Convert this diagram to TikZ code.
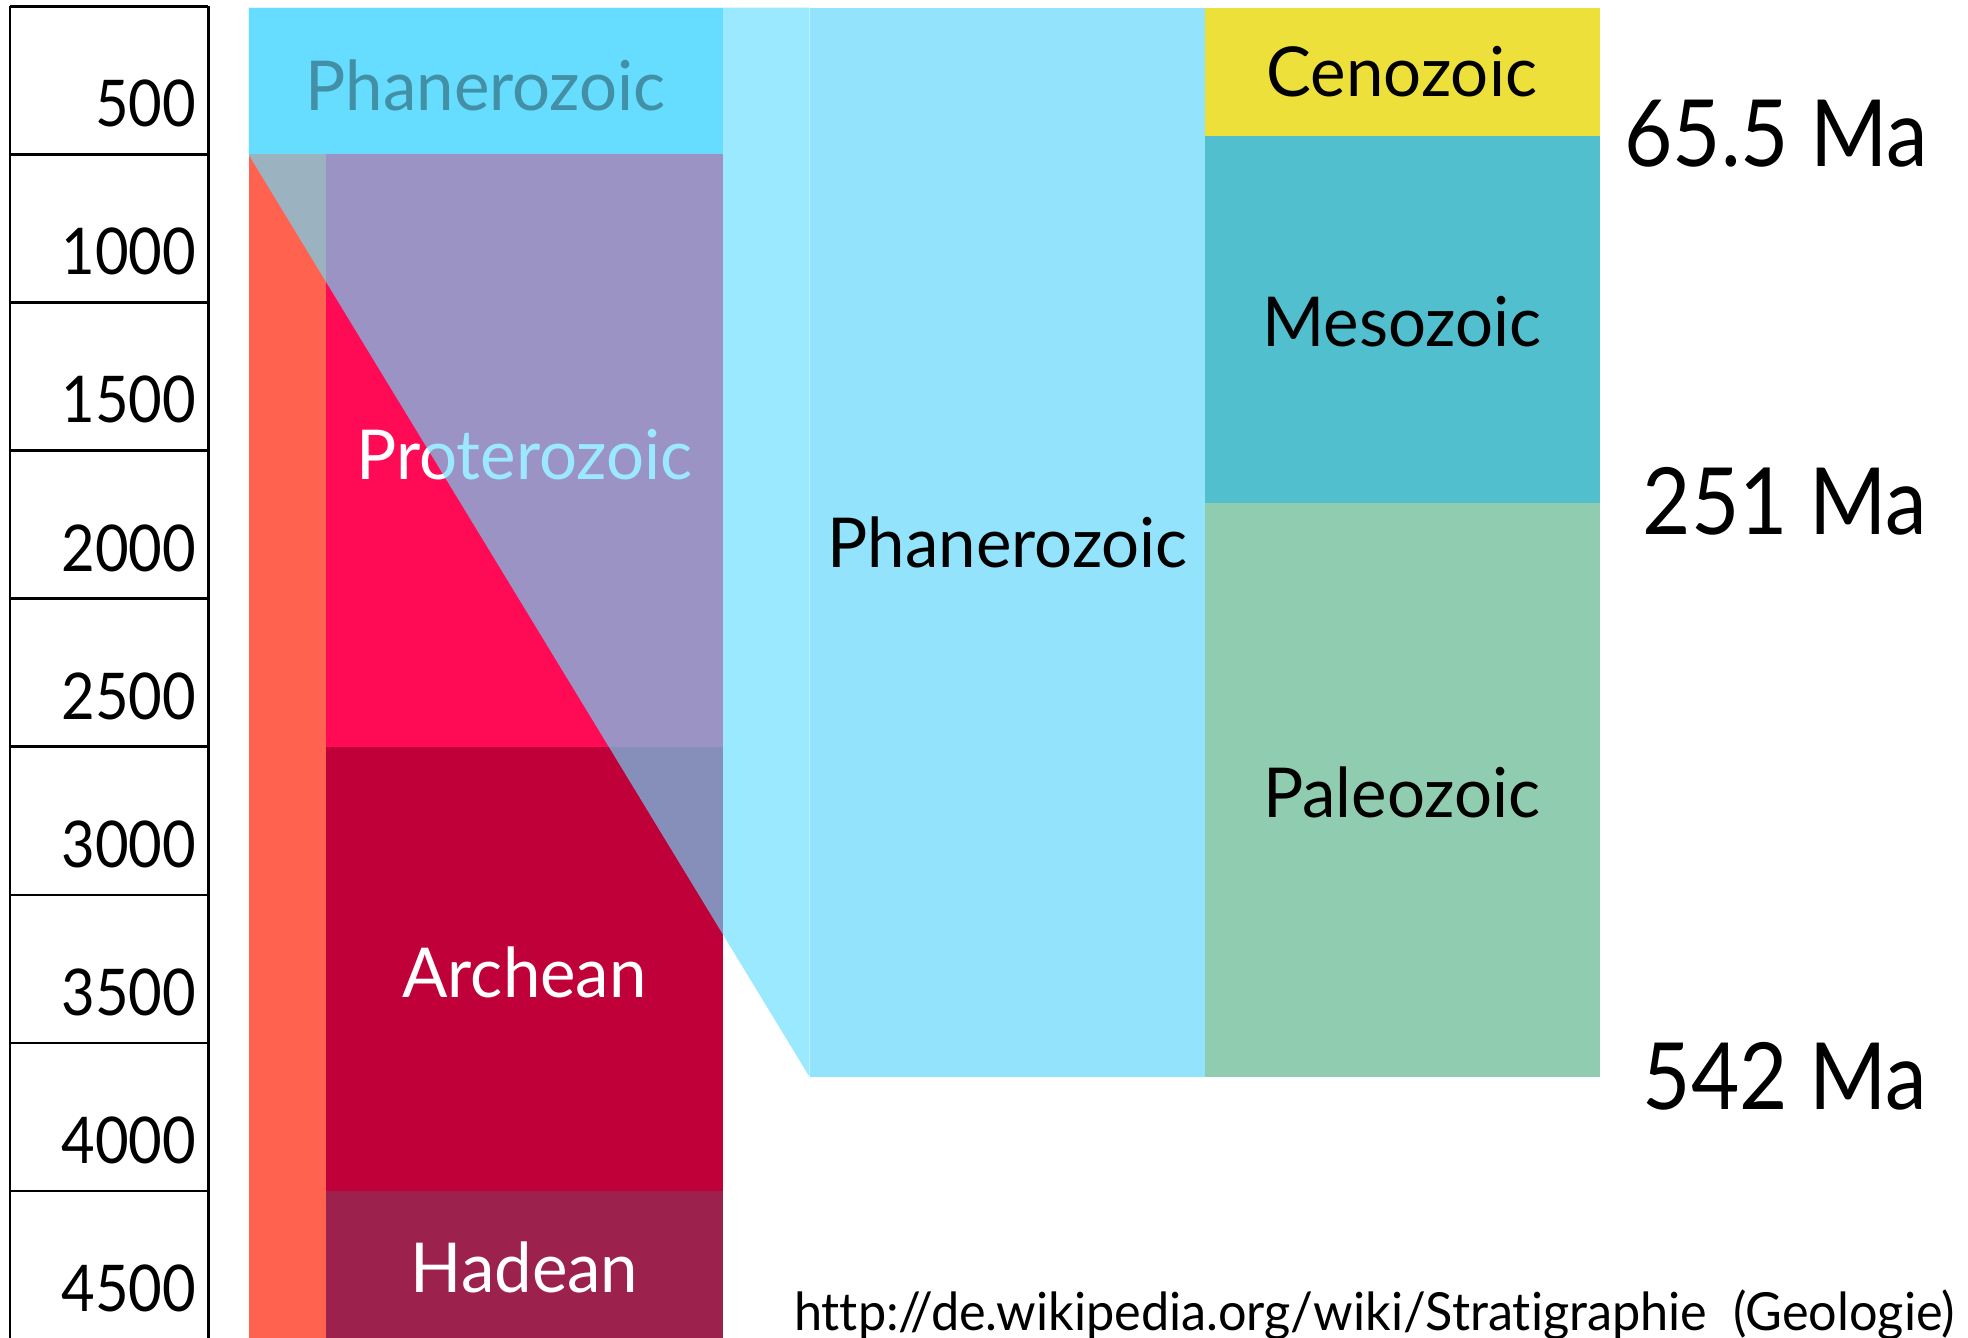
\documentclass[tikz,border=0pt]{standalone}
\usepackage{fontspec}
\setmainfont{Lato}[FakeStretch=0.9]
\newfontfamily\erafont{Lato}[FakeStretch=0.975]
\newfontfamily\srcfont{Lato}[FakeStretch=0.96,Ligatures={NoCommon,NoRare}]
\definecolor{phcyan}{HTML}{66DDFF}
\definecolor{orangestrip}{HTML}{FF6350}
\definecolor{protpink}{HTML}{FF0A55}
\definecolor{archred}{HTML}{C00038}
\definecolor{hadred}{HTML}{9C224D}
\definecolor{phmain}{HTML}{94E3FC}
\definecolor{ceno}{HTML}{EEE03A}
\definecolor{meso}{HTML}{52BFCF}
\definecolor{paleo}{HTML}{90CCB0}
\tikzset{
  scalelbl/.style={anchor=base east, inner sep=0pt, font=\fontsize{14.6}{16}\selectfont},
  eralbl/.style={anchor=base, inner sep=0pt, font=\erafont\fontsize{15.6}{18}\selectfont},
  malbl/.style={anchor=base east, inner sep=0pt, font=\fontsize{21}{24}\selectfont},
  scaleline/.style={line width=0.6pt, black}
}
\begin{document}
\begin{tikzpicture}[x=0.01cm,y=-0.01cm]
\useasboundingbox (0,0) rectangle (1568,1066);
% time scale column
\foreach \yy in {5,123,241,359,477,595,713,831,949}
  \draw[scaleline] (8,\yy) -- (166,\yy);
\draw[scaleline] (8,5) -- (8,1070);
\draw[scaleline] (166,5) -- (166,1070);
\foreach \v [count=\i from 0] in {500,1000,1500,2000,2500,3000,3500,4000,4500}
  \node[scalelbl] (lbl\v) at (157,{101+118*\i}) {\v};
% left column
\fill[phcyan] (198,6) rectangle (576,123);
\node[eralbl, text=black] (phantop) at (387,88) {Phanerozoic};
\fill[orangestrip] (198,123) rectangle (260,1070);
\fill[protpink] (260,123) rectangle (576,595);
\fill[archred] (260,595) rectangle (576,949);
\fill[hadred] (260,949) rectangle (576,1070);
\node[eralbl, text=white] (prot) at (418,382) {Proterozoic};
\node[eralbl, text=white] (arch) at (418,795) {Archean};
\node[eralbl, text=white] (hade) at (418,1030) {Hadean};
% funnel overlay
\fill[phcyan, fill opacity=0.65] (198,6) -- (645,6) -- (645,858) -- (198,123) -- cycle;
% right column
\fill[phmain] (645,6) rectangle (960,858);
\node[eralbl] (phanmid) at (803,452) {Phanerozoic};
\fill[ceno] (960,6) rectangle (1275,108);
\fill[meso] (960,108) rectangle (1275,401);
\fill[paleo] (960,401) rectangle (1275,858);
\node[eralbl] (ceno) at (1117,77) {Cenozoic};
\node[eralbl] (meso) at (1117,276) {Mesozoic};
\node[eralbl] (paleo) at (1117,651) {Paleozoic};
% boundary ages
\node[malbl] (ma65) at (1537,133) {65.5 Ma};
\node[malbl] (ma251) at (1536,426) {251 Ma};
\node[malbl] (ma542) at (1536,884) {542 Ma};
% source
\node[anchor=base west, inner sep=0pt, font=\srcfont\fontsize{11.9}{14}\selectfont] (src) at (632,1060) {http://de.wikipedia.org/wiki/Stratigraphie\ \ (Geologie)};
\end{tikzpicture}
\end{document}
